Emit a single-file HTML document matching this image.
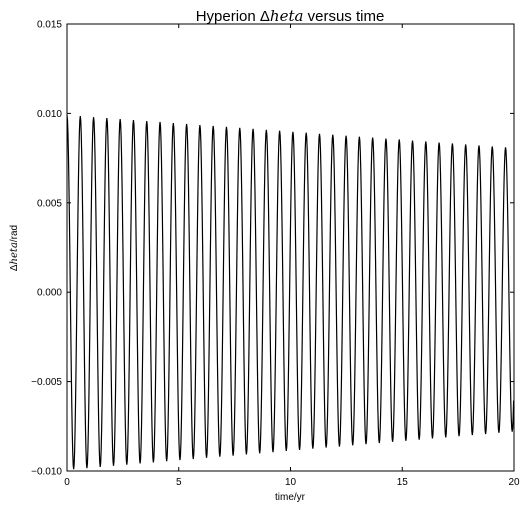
<!DOCTYPE html>
<html><head><meta charset="utf-8"><style>
body{margin:0;background:#fff;}
svg{display:block;font-family:"Liberation Sans","DejaVu Sans",sans-serif;}
</style></head><body>
<svg width="527" height="508">
<rect x="0" y="0" width="527" height="508" fill="#fff"/>
<g id="ticks"></g>
<path id="line" fill="none" stroke="#000" stroke-width="1.2"/>
<rect x="67" y="24" width="447" height="447" fill="none" stroke="#000" stroke-width="1"/>
<text x="290" y="21" font-size="15" text-anchor="middle">Hyperion Δ<tspan font-family="DejaVu Serif, serif" font-style="italic">heta</tspan> versus time</text>
<text x="290" y="500" font-size="10" text-anchor="middle">time/yr</text>
<text transform="translate(17,248) rotate(-90)" font-size="10" text-anchor="middle">Δ<tspan font-family="DejaVu Serif, serif" font-style="italic">heta</tspan>/rad</text>
</svg>
<script>
const xTicks=[0,5,10,15,20];
const yTicks=[-0.010,-0.005,0.000,0.005,0.010,0.015];
const yTickLabels=["−0.010","−0.005","0.000","0.005","0.010","0.015"];
const period=0.5946;
const peaks=[0.00990,0.00985,0.00979,0.00974,0.00968,0.00963,0.00957,0.00952,0.00946,0.00941,0.00935,0.00930,0.00925,0.00919,0.00914,0.00908,0.00903,0.00897,0.00892,0.00886,0.00881,0.00875,0.00870,0.00865,0.00859,0.00854,0.00848,0.00843,0.00837,0.00832,0.00826,0.00821,0.00815,0.00810];
const troughs=[-0.00990,-0.00984,-0.00977,-0.00971,-0.00965,-0.00958,-0.00952,-0.00945,-0.00939,-0.00933,-0.00926,-0.00920,-0.00914,-0.00907,-0.00901,-0.00895,-0.00888,-0.00882,-0.00875,-0.00869,-0.00863,-0.00856,-0.00850,-0.00844,-0.00837,-0.00831,-0.00825,-0.00818,-0.00812,-0.00805,-0.00799,-0.00793,-0.00786,-0.00780];
const endValue=-0.0065;
const X0=67,X1=514,Y0=471,Y1=24;
const xs=t=>X0+(t-0)/(20-0)*(X1-X0);
const ys=v=>Y0-(v+0.010)/(0.025)*(Y0-Y1);
const NS="http://www.w3.org/2000/svg";
const g=document.getElementById('ticks');
function ln(x1,y1,x2,y2,name){const l=document.createElementNS(NS,'line');l.setAttribute('x1',x1);l.setAttribute('y1',y1);l.setAttribute('x2',x2);l.setAttribute('y2',y2);l.setAttribute('stroke','#000');


g.appendChild(l);}
function tx(x,y,s,anchor,name){const t=document.createElementNS(NS,'text');t.setAttribute('x',x);t.setAttribute('y',y);t.setAttribute('font-size','10');t.setAttribute('text-anchor',anchor);t.textContent=s;


g.appendChild(t);}
xTicks.forEach(v=>{const x=xs(v);ln(x,Y0,x,Y0-4,'x-tick');ln(x,Y1,x,Y1+4,'x-tick');tx(x,Y0+14,String(v),'middle','x-tick-label');});
yTicks.forEach((v,i)=>{const y=ys(v);ln(X0,y,X0+4,y,'y-tick');ln(X1,y,X1-4,y,'y-tick');tx(X0-5,y+3.5,yTickLabels[i],'end','y-tick-label');});
// extrema sequence
const ext=[];
for(let k=0;k<peaks.length;k++){ext.push([k*period,peaks[k]]);if(k<troughs.length)ext.push([(k+0.5)*period,troughs[k]]);}
let d='';
for(let i=0;i<ext.length;i++){
  const [t0,v0]=ext[i];
  let t1,v1;
  if(i+1<ext.length){[t1,v1]=ext[i+1];}else{t1=t0+period/2;v1=peaks[peaks.length-1];}
  const n=14;
  for(let j=0;j<=n;j++){
    const f=j/n,t=t0+(t1-t0)*f;
    if(t>20)break;
    const v=v0+(v1-v0)*(1-Math.cos(Math.PI*f))/2;
    d+=(d?'L':'M')+xs(t).toFixed(2)+','+ys(v).toFixed(2);
  }
}
d+='L'+xs(20).toFixed(2)+','+ys(endValue).toFixed(2);
document.getElementById('line').setAttribute('d',d);
</script>
</body></html>
